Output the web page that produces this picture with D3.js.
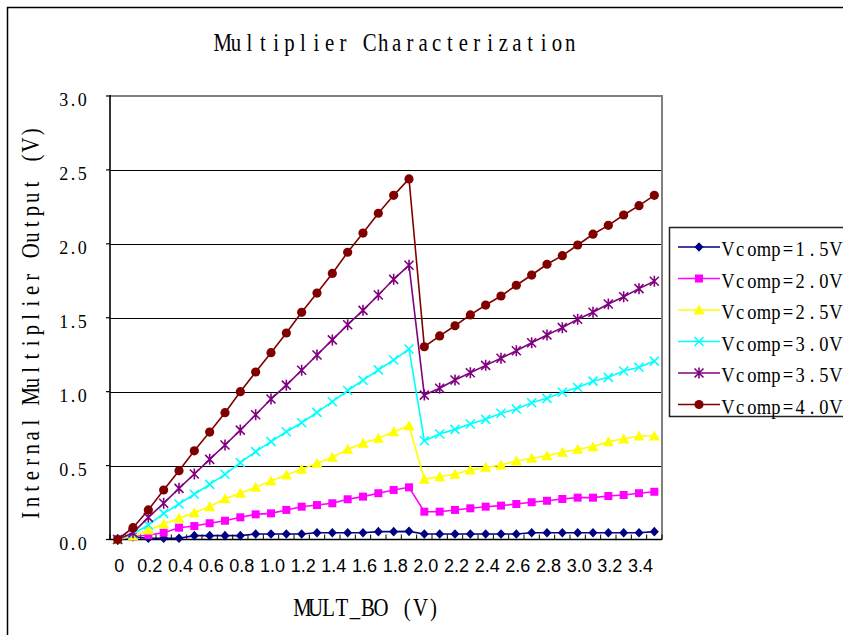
<!DOCTYPE html>
<html><head><meta charset="utf-8">
<script src="https://cdn.jsdelivr.net/npm/d3@7"></script>
<style>html,body{margin:0;padding:0;background:#fff}svg{display:block}</style>
</head><body>
<script>
// ---------- data ----------
const categories = ["0","0.1","0.2","0.3","0.4","0.5","0.6","0.7","0.8","0.9",
  "1.0","1.1","1.2","1.3","1.4","1.5","1.6","1.7","1.8","1.9",
  "2.0","2.1","2.2","2.3","2.4","2.5","2.6","2.7","2.8","2.9",
  "3.0","3.1","3.2","3.3","3.4","3.5"];
const xTickLabels = ["0","0.2","0.4","0.6","0.8","1.0","1.2","1.4","1.6","1.8",
  "2.0","2.2","2.4","2.6","2.8","3.0","3.2","3.4"];
const yTicks = [0, 0.5, 1.0, 1.5, 2.0, 2.5, 3.0];
const seriesNames = ["Vcomp=1.5V","Vcomp=2.0V","Vcomp=2.5V","Vcomp=3.0V","Vcomp=3.5V","Vcomp=4.0V"];
const vcomp15 = [0,0.017,0.008,0.008,0.008,0.026,0.026,0.026,0.026,0.037,0.037,0.037,0.037,0.046,0.046,0.046,0.046,0.053,0.053,0.055,
  0.037,0.037,0.037,0.037,0.037,0.037,0.037,0.046,0.046,0.046,0.046,0.046,0.046,0.046,0.046,0.053];
const vcomp20 = [0,0.019,0.03,0.046,0.08,0.091,0.11,0.127,0.15,0.17,0.177,0.20,0.222,0.233,0.245,0.272,0.29,0.313,0.335,0.353,
  0.188,0.188,0.20,0.211,0.222,0.229,0.24,0.252,0.262,0.274,0.283,0.283,0.294,0.301,0.313,0.323];
const vcomp25 = [0,0.024,0.064,0.105,0.143,0.181,0.222,0.275,0.313,0.353,0.396,0.436,0.475,0.515,0.556,0.61,0.651,0.685,0.729,0.77,
  0.407,0.425,0.441,0.47,0.488,0.504,0.531,0.549,0.567,0.59,0.61,0.628,0.662,0.68,0.70,0.70];
const vcomp30 = [0,0.037,0.098,0.177,0.24,0.306,0.373,0.441,0.52,0.594,0.662,0.729,0.79,0.86,0.932,1.008,1.077,1.147,1.214,1.289,
  0.668,0.714,0.745,0.781,0.813,0.854,0.883,0.925,0.955,0.996,1.028,1.071,1.097,1.14,1.165,1.207];
const vcomp35 = [0,0.045,0.15,0.245,0.346,0.443,0.542,0.639,0.74,0.844,0.95,1.044,1.145,1.248,1.35,1.453,1.55,1.654,1.76,1.855,
  0.977,1.023,1.079,1.128,1.178,1.226,1.277,1.331,1.383,1.433,1.49,1.537,1.593,1.642,1.697,1.747];
const vcomp40 = [0,0.08,0.20,0.335,0.465,0.60,0.727,0.858,1.00,1.133,1.264,1.397,1.537,1.667,1.80,1.943,2.073,2.207,2.328,2.439,
  1.304,1.377,1.446,1.519,1.586,1.647,1.72,1.789,1.862,1.92,1.992,2.065,2.125,2.195,2.258,2.328];
const seriesValues = [vcomp15, vcomp20, vcomp25, vcomp30, vcomp35, vcomp40];
const seriesColors = ["#000080","#FF00FF","#FFFF00","#00FFFF","#800080","#800000"];
const seriesMarkers = ["diamond","square","triangle","x","star","circle"];

// ---------- layout ----------
const W = 843, H = 635;
const plot = {left:110, right:662, top:96, bottom:539.5};
const SERIF = "'Liberation Serif','DejaVu Serif',serif";
const SANS = "'Liberation Sans',Arial,sans-serif";

const svg = d3.select("body").append("svg").attr("width", W).attr("height", H);
svg.append("rect").attr("width", W).attr("height", H).attr("fill", "#fff");
// outer chart frame
svg.append("rect").attr("x", 7.5).attr("y", 7.5).attr("width", 900).attr("height", 700)
  .attr("fill", "none").attr("stroke", "#000").attr("stroke-width", 1.5);

const x = d3.scaleBand().domain(categories).range([plot.left, plot.right]).padding(0);
const xc = c => x(c) + x.bandwidth() / 2;
const y = d3.scaleLinear().domain([0, 3]).range([plot.bottom, plot.top]);

// monospace-cell text (emulates SimSun-like half-width glyphs)
function monoText(parent, str, o) {
  const sx = o.sx || 0.65, n = str.length, total = n * o.cw;
  const left = o.anchor === "middle" ? -total / 2 : o.anchor === "end" ? -total : 0;
  const g = parent.append("g")
    .attr("transform", `translate(${o.x},${o.y}) rotate(${o.rotate || 0}) scale(${sx},1)`);
  const xs = Array.from(str).map((c, i) => ((left + o.cw * (i + 0.5)) / sx).toFixed(2));
  g.append("text").attr("x", xs.join(" ")).attr("y", 0)
    .attr("text-anchor", "middle")
    .style("font-family", SERIF).style("font-size", o.size + "px")
    .attr("fill", "#000").text(str);
}

// plot background
svg.append("rect").attr("x", plot.left).attr("y", plot.top)
  .attr("width", plot.right - plot.left).attr("height", plot.bottom - plot.top).attr("fill", "#fff");

// gridlines
svg.append("g").selectAll("line").data(yTicks.filter(v => v > 0 && v < 3)).join("line")
  .attr("x1", plot.left).attr("x2", plot.right)
  .attr("y1", d => Math.round(y(d)) + 0.5).attr("y2", d => Math.round(y(d)) + 0.5)
  .attr("stroke", "#000").attr("stroke-width", 1);

// plot border top/right (grey)
svg.append("path")
  .attr("d", `M${plot.left},${plot.top}H${plot.right}V${plot.bottom}`)
  .attr("fill", "none").attr("stroke", "#808080").attr("stroke-width", 2);

// y axis
svg.append("line").attr("x1", plot.left).attr("x2", plot.left).attr("y1", plot.top - 1).attr("y2", plot.bottom)
  .attr("stroke", "#000").attr("stroke-width", 1.6);
svg.append("g").selectAll("line").data(yTicks).join("line")
  .attr("x1", plot.left - 4).attr("x2", plot.left)
  .attr("y1", d => y(d)).attr("y2", d => y(d))
  .attr("stroke", "#000").attr("stroke-width", 1.2);
yTicks.forEach(v => {
  monoText(svg, v.toFixed(1), {x: 87, y: y(v) + 10, cw: 9.3, size: 18, sx: 1, anchor: "end"});
});

// x axis
svg.append("line").attr("x1", plot.left).attr("x2", plot.right).attr("y1", plot.bottom).attr("y2", plot.bottom)
  .attr("stroke", "#000").attr("stroke-width", 1.6);
const tickXs = categories.map(c => x(c)).concat([x(categories[categories.length - 1]) + x.bandwidth()]);
svg.append("g").selectAll("line").data(tickXs).join("line")
  .attr("x1", d => d).attr("x2", d => d)
  .attr("y1", plot.bottom - 5).attr("y2", plot.bottom)
  .attr("stroke", "#000").attr("stroke-width", 1);
svg.append("g").selectAll("text").data(xTickLabels).join("text")
  .attr("x", d => xc(d) + 1.5).attr("y", 572)
  .attr("text-anchor", "middle")
  .style("font-family", SANS).style("font-size", "18px").attr("fill", "#000")
  .text(d => d);

// marker drawing
function drawMarker(g, type, color) {
  switch (type) {
    case "diamond":
      g.append("path").attr("d", "M0,-4.8L4.5,0L0,4.8L-4.5,0Z").attr("fill", color); break;
    case "square":
      g.append("rect").attr("x", -4).attr("y", -4).attr("width", 8).attr("height", 8).attr("fill", color); break;
    case "triangle":
      g.append("path").attr("d", "M0,-5.5L5.5,4.5L-5.5,4.5Z").attr("fill", color); break;
    case "x":
      g.append("path").attr("d", "M-4.5,-4.5L4.5,4.5M-4.5,4.5L4.5,-4.5")
        .attr("stroke", color).attr("stroke-width", 1.6).attr("fill", "none"); break;
    case "star":
      g.append("path").attr("d", "M-4.5,-4.5L4.5,4.5M-4.5,4.5L4.5,-4.5M0,-5.5L0,5.5")
        .attr("stroke", color).attr("stroke-width", 1.6).attr("fill", "none"); break;
    case "circle":
      g.append("circle").attr("r", 4.6).attr("fill", color); break;
  }
}

// series
const line = d3.line().x((d, i) => xc(categories[i])).y(d => y(d));
seriesValues.forEach((vals, s) => {
  const g = svg.append("g");
  g.append("path").attr("d", line(vals)).attr("fill", "none")
    .attr("stroke", seriesColors[s]).attr("stroke-width", 1.6);
  vals.forEach((v, i) => {
    const m = g.append("g").attr("transform", `translate(${xc(categories[i])},${y(v)})`);
    drawMarker(m, seriesMarkers[s], seriesColors[s]);
  });
});

// legend
const leg = svg.append("g");
leg.append("rect").attr("x", 669.5).attr("y", 227.5).attr("width", 250).attr("height", 189)
  .attr("fill", "#fff").attr("stroke", "#222").attr("stroke-width", 1.5);
seriesNames.forEach((name, i) => {
  const ry = 247 + i * 31.5;
  leg.append("line").attr("x1", 678).attr("x2", 720).attr("y1", ry).attr("y2", ry)
    .attr("stroke", seriesColors[i]).attr("stroke-width", 1.6);
  const m = leg.append("g").attr("transform", `translate(699,${ry})`);
  drawMarker(m, seriesMarkers[i], seriesColors[i]);
  monoText(leg, name, {x: 722, y: ry + 9, cw: 12, size: 22, sx: 0.84, anchor: "start"});
});

// titles
monoText(svg, "Multiplier Characterization", {x: 396.5, y: 51, cw: 13.37, size: 26, sx: 0.8, anchor: "middle"});
monoText(svg, "Internal Multiplier Output (V)", {x: 39, y: 323.5, cw: 13.23, size: 26, sx: 0.8, anchor: "middle", rotate: -90});
monoText(svg, "MULT_BO (V)", {x: 368, y: 616, cw: 13.1, size: 26, sx: 0.8, anchor: "middle"});
</script>
</body></html>
